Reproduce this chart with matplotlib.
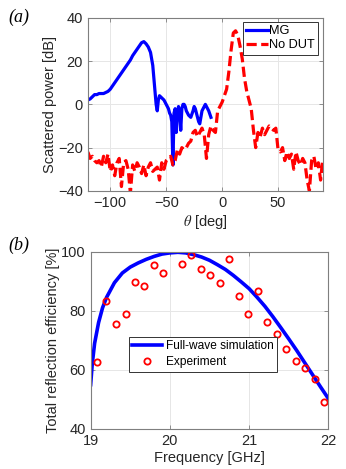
import matplotlib
matplotlib.use("Agg")
import matplotlib.pyplot as plt

plt.rcParams['font.family'] = ['Liberation Sans', 'DejaVu Sans']
plt.rcParams['mathtext.fontset'] = 'stix'

# (a) scattered power vs angle
theta_mg = [-120, -118, -116, -114, -112, -110, -108, -106, -104, -102, -100, -98, -96, -94,
            -92, -90, -88, -86, -84, -82, -80, -78, -76, -74, -72, -70, -68, -66, -64, -62,
            -61, -60, -59, -58, -57, -56, -54, -52, -50, -48, -47, -46, -45, -44, -43, -42,
            -41, -40, -39, -38, -37, -36, -35, -34, -33, -32, -30, -28, -26, -25, -24, -22,
            -21, -20, -18, -16, -15, -14, -12, -10]
p_mg = [2, 2.5, 3.5, 4.5, 4.5, 5, 5, 5, 5.5, 6, 7, 8.5, 10, 11.5,
        13, 14.5, 16, 17.5, 19, 20.5, 22.5, 24, 25.5, 27, 28.5, 29, 28, 26.5, 24, 18,
        12, 6, 0, -3, 2, 4, 3, 2, 0, -2, -4, -5, -8, -28, -4, -2,
        -13, -5, -1, -3, -12, -2, 0, 0, -1, -3, -5, -6, -3, -1, -2, -6,
        -8, -9, -3, -1, 0, -1, -3, -6]

theta_ref = list(range(-120, 91, 2))
p_ref = [-22, -25, -24, -26, -27, -26, -29, -24, -27, -23, -31, -28, -33, -27, -25, -38,
         -27, -26, -30, -41, -28, -31, -27, -29, -32, -28, -33, -29, -27, -31, -30, -29,
         -35, -27, -30, -26, -25, -24, -28, -26, -21, -23, -20, -21, -20, -18, -17, -13,
         -12, -15, -13, -11, -14, -25, -14, -10, -12, -13, -3, -1, 1, 4, 7, 15,
         25, 33, 34, 32, 27, 21, 12, 6, 2, -2, -12, -20, -13, -15, -11, -14,
         -12, -10, -11, -12, -11, -21, -22, -20, -26, -22, -25, -23, -30, -22, -26,
         -28, -25, -27, -35, -40, -26, -24, -30, -27, -35, -25]

# (b) reflection efficiency vs frequency
f_sim = [19.0, 19.02, 19.05, 19.1, 19.15, 19.2, 19.3, 19.4, 19.5, 19.6, 19.7, 19.8, 19.9,
         20.0, 20.1, 20.2, 20.3, 20.4, 20.5, 20.6, 20.7, 20.8, 20.9, 21.0, 21.1, 21.2,
         21.3, 21.4, 21.5, 21.6, 21.7, 21.8, 21.9, 22.0]
eff_sim = [55, 62, 69, 76, 81, 84.5, 89.5, 92.8, 94.8, 96.2, 97.4, 98.4, 99.2,
           99.6, 99.8, 99.6, 99.0, 98.2, 97.1, 95.6, 94.0, 92.0, 89.8, 87.5, 84.6, 81.5,
           78.0, 74.3, 70.5, 66.6, 62.5, 58.4, 54.3, 50.3]

f_exp = [19.08, 19.2, 19.32, 19.44, 19.56, 19.67, 19.8, 19.91, 20.15, 20.27, 20.39, 20.51,
         20.63, 20.75, 20.87, 20.99, 21.11, 21.23, 21.35, 21.47, 21.59, 21.71, 21.83, 21.95]
eff_exp = [62.8, 83.4, 75.5, 78.8, 89.6, 88.3, 95.5, 92.9, 95.9, 99, 94.1, 92.2,
           89.3, 97.4, 85, 78.9, 86.7, 76.3, 72, 67, 62.9, 60.7, 57, 49.1]

fig = plt.figure(figsize=(3.46, 4.69), dpi=100)

def style(ax):
    ax.grid(True, color='#e6e6e6', linewidth=0.7)
    ax.set_axisbelow(True)
    for s in ax.spines.values():
        s.set_color('#7f7f7f')
        s.set_linewidth(0.8)
    ax.tick_params(direction='in', length=3, width=0.6, color='#7f7f7f',
                   labelsize=10.5, labelcolor='#262626', top=True, right=True,
                   labeltop=False, labelright=False)

ax1 = fig.add_axes([0.254, 0.593, 0.679, 0.369])
ax1.plot(theta_mg, p_mg, color='#0000ff', lw=2.3, label='MG')
ax1.plot(theta_ref, p_ref, color='#ff0000', lw=2.3, ls=(0, (3.2, 1.4)), label='No DUT')
ax1.set_xlim(-120, 90)
ax1.set_ylim(-40, 40)
ax1.set_xticks([-100, -50, 0, 50])
ax1.set_yticks([-40, -20, 0, 20, 40])
ax1.set_xlabel(r'$\theta$ [deg]', fontsize=10.5, color='#262626', labelpad=2)
ax1.set_ylabel('Scattered power [dB]', fontsize=10.5, color='#262626', labelpad=1)
style(ax1)
leg = ax1.legend(loc='upper right', fontsize=9.2, handlelength=1.7, handletextpad=0.1,
                 borderpad=0.25, labelspacing=0.15, fancybox=False, framealpha=1,
                 borderaxespad=0.35)
leg.get_frame().set_edgecolor('#333333')
leg.get_frame().set_linewidth(0.7)

ax2 = fig.add_axes([0.262, 0.0853, 0.687, 0.378])
ax2.plot(f_sim, eff_sim, color='#0000ff', lw=2.6, label='Full-wave simulation')
ax2.plot(f_exp, eff_exp, 'o', mfc='none', mec='#ff0000', mew=1.3, ms=4.5,
         ls='none', label='Experiment')
ax2.set_xlim(19, 22)
ax2.set_ylim(40, 100)
ax2.set_xticks([19, 20, 21, 22])
ax2.set_yticks([40, 60, 80, 100])
ax2.set_xlabel('Frequency [GHz]', fontsize=10.5, color='#262626', labelpad=2)
ax2.set_ylabel('Total reflection efficiency [%]', fontsize=10.5, color='#262626', labelpad=1)
style(ax2)
leg2 = ax2.legend(loc='upper left', bbox_to_anchor=(0.16, 0.52), fontsize=8.6,
                  handlelength=2.5, handletextpad=0.3, borderpad=0.3, labelspacing=0.3,
                  fancybox=False, framealpha=1, borderaxespad=0)
leg2.get_frame().set_edgecolor('#333333')
leg2.get_frame().set_linewidth(0.7)

fig.text(0.023, 0.953, '(a)', fontsize=13, style='italic', family='Liberation Serif')
fig.text(0.023, 0.468, '(b)', fontsize=13, style='italic', family='Liberation Serif')

fig.savefig('out.png', dpi=100)
